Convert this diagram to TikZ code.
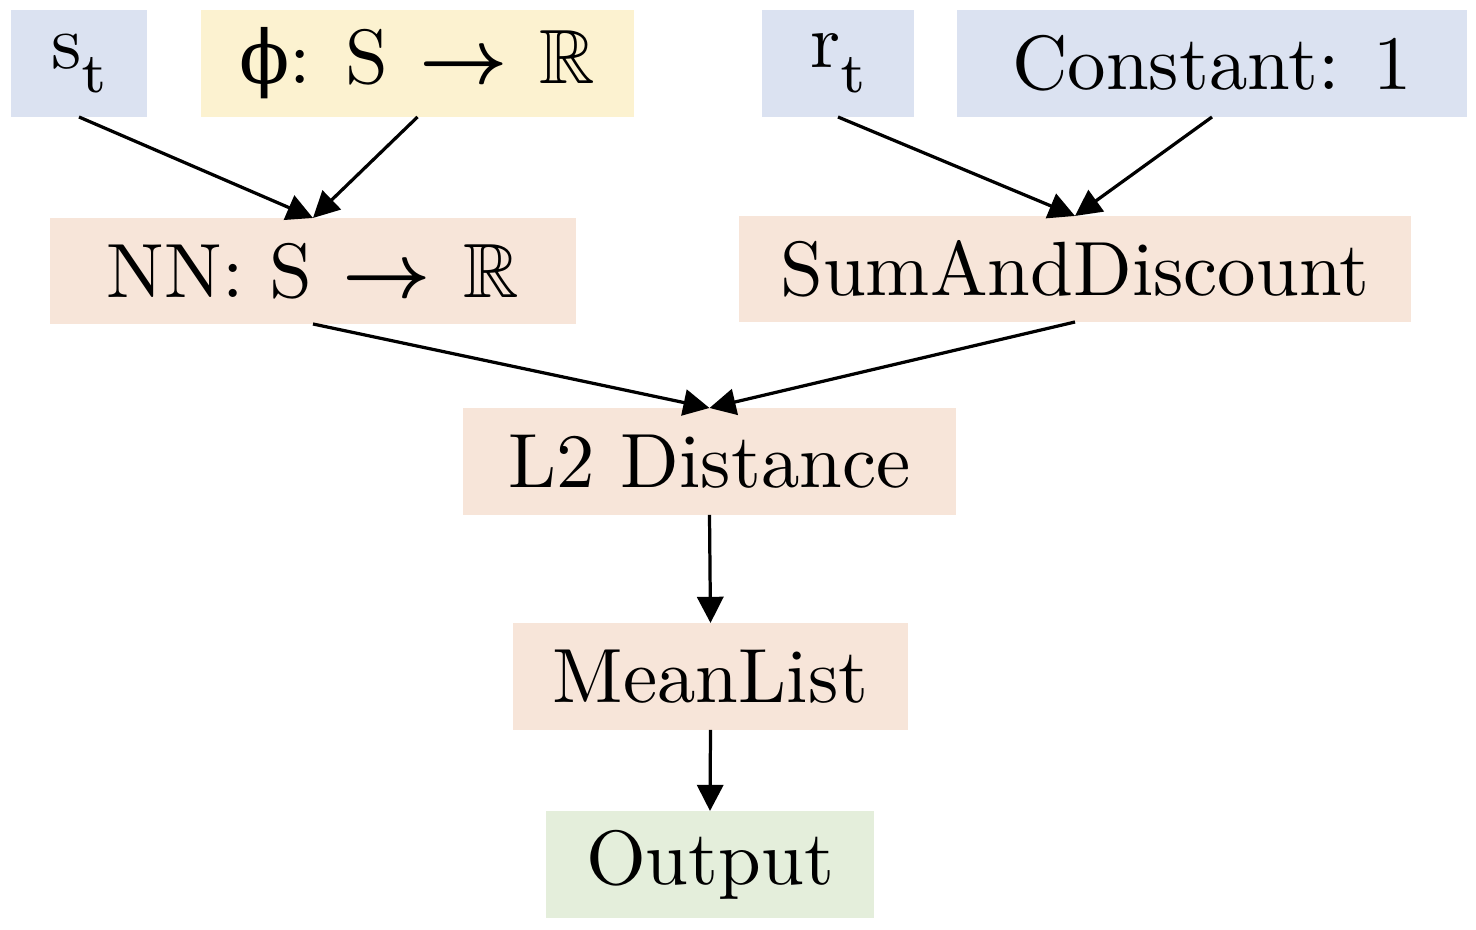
\documentclass[tikz,border=0pt]{standalone}
\usepackage{amssymb}
\usepackage{fontspec}
\newfontfamily\phifont{DejaVu Serif}
\usetikzlibrary{arrows.meta}
\definecolor{cblue}{RGB}{219,226,241}
\definecolor{cyellow}{RGB}{252,242,208}
\definecolor{cpeach}{RGB}{247,229,217}
\definecolor{cgreen}{RGB}{228,238,219}
\newcommand{\myarr}{\hspace{0.4em}{\boldmath$\rightarrow$}\hspace{0.42em}}
\newcommand{\mysub}[1]{\raisebox{-3.2pt}{\fontsize{7.4}{9}\selectfont #1}}
\begin{document}
\begin{tikzpicture}[x=0.13pt,y=-0.13pt,
  box/.style={rectangle, inner sep=0pt, outer sep=0pt, draw=none, font=\fontsize{10}{12}\selectfont},
  conn/.style={line width=0.42pt, -{Triangle[length=3.4pt,width=3.4pt]}}]
\useasboundingbox (0,0) rectangle (1476,930);
\node[box, fill=cblue, minimum width=136*0.13pt, minimum height=107*0.13pt] (st) at (79,63.5) {s\mysub{t}};
\node[box, fill=cyellow, minimum width=433*0.13pt, minimum height=107*0.13pt] (phi) at (417.5,63.5) {{\phifont\fontsize{9.6}{12}\selectfont ϕ}: S\myarr$\mathbb{R}$};
\node[box, fill=cblue, minimum width=152*0.13pt, minimum height=107*0.13pt] (rt) at (838,63.5) {r\mysub{t}};
\node[box, fill=cblue, minimum width=510*0.13pt, minimum height=107*0.13pt] (const) at (1212,63.5) {Constant: 1};
\node[box, fill=cpeach, minimum width=526*0.13pt, minimum height=106*0.13pt] (nn) at (313,271) {NN: S\myarr$\mathbb{R}$};
\node[box, fill=cpeach, minimum width=672*0.13pt, minimum height=106*0.13pt] (sum) at (1075,269) {SumAndDiscount};
\node[box, fill=cpeach, minimum width=493*0.13pt, minimum height=107*0.13pt] (l2) at (709.5,461.5) {L2 Distance};
\node[box, fill=cpeach, minimum width=395*0.13pt, minimum height=107*0.13pt] (mean) at (710.5,676.5) {MeanList};
\node[box, fill=cgreen, minimum width=328*0.13pt, minimum height=107*0.13pt] (out) at (710,864.5) {Output};
\draw[conn] (st.south) -- (nn.north);
\draw[conn] (phi.south) -- (nn.north);
\draw[conn] (rt.south) -- (sum.north);
\draw[conn] (const.south) -- (sum.north);
\draw[conn] (nn.south) -- (l2.north);
\draw[conn] (sum.south) -- (l2.north);
\draw[conn] (l2.south) -- (mean.north);
\draw[conn] (mean.south) -- (out.north);
\end{tikzpicture}
\end{document}
